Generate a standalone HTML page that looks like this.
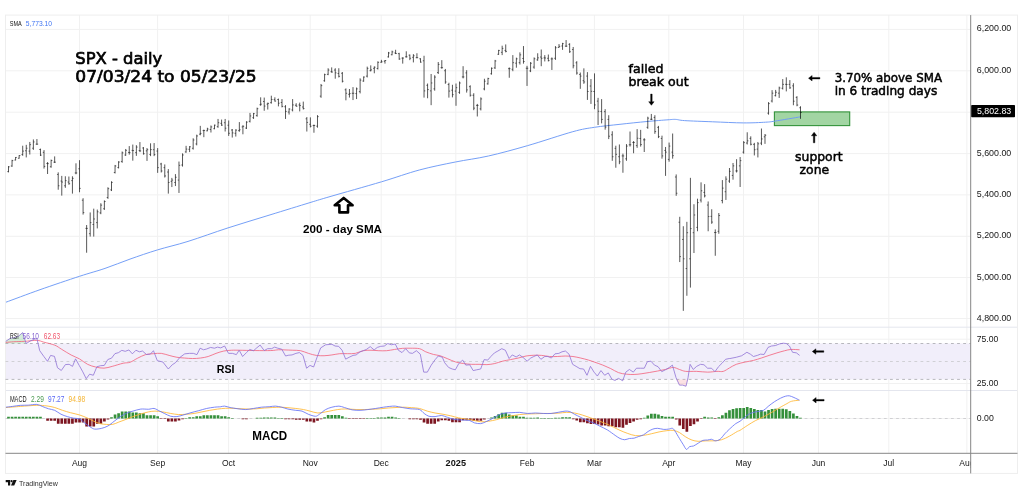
<!DOCTYPE html>
<html lang="en"><head><meta charset="utf-8"><title>SPX - daily</title>
<style>html,body{margin:0;padding:0;background:#fff}body{width:1023px;height:493px;overflow:hidden}svg{display:block}text{font-family:"Liberation Sans","DejaVu Sans",sans-serif}.ax{font-size:8.5px;fill:#161616}.tv{font-family:"DejaVu Sans","Liberation Sans",sans-serif;fill:#000;stroke:#000;stroke-width:.5px}.bd{font-weight:bold;fill:#000}.lg{font-size:8.5px}</style></head><body>
<svg width="1023" height="493" viewBox="0 0 1023 493">
<rect width="1023" height="493" fill="#fff"/>
<g stroke="#f1f1f1" stroke-width="1" fill="none">
<line x1="5.5" y1="29.4" x2="970.7" y2="29.4"/>
<line x1="5.5" y1="70.8" x2="970.7" y2="70.8"/>
<line x1="5.5" y1="112.2" x2="970.7" y2="112.2"/>
<line x1="5.5" y1="153.6" x2="970.7" y2="153.6"/>
<line x1="5.5" y1="194.9" x2="970.7" y2="194.9"/>
<line x1="5.5" y1="236.3" x2="970.7" y2="236.3"/>
<line x1="5.5" y1="277.5" x2="970.7" y2="277.5"/>
<line x1="5.5" y1="318.5" x2="970.7" y2="318.5"/>
<line x1="5.5" y1="339.2" x2="970.7" y2="339.2"/>
<line x1="5.5" y1="383.5" x2="970.7" y2="383.5"/>
<line x1="5.5" y1="418.5" x2="970.7" y2="418.5"/>
<line x1="79.5" y1="15.1" x2="79.5" y2="453.3"/>
<line x1="157.6" y1="15.1" x2="157.6" y2="453.3"/>
<line x1="228.6" y1="15.1" x2="228.6" y2="453.3"/>
<line x1="310.2" y1="15.1" x2="310.2" y2="453.3"/>
<line x1="381.2" y1="15.1" x2="381.2" y2="453.3"/>
<line x1="455.8" y1="15.1" x2="455.8" y2="453.3"/>
<line x1="527.2" y1="15.1" x2="527.2" y2="453.3"/>
<line x1="594.4" y1="15.1" x2="594.4" y2="453.3"/>
<line x1="668.8" y1="15.1" x2="668.8" y2="453.3"/>
<line x1="743.5" y1="15.1" x2="743.5" y2="453.3"/>
<line x1="818.5" y1="15.1" x2="818.5" y2="453.3"/>
<line x1="888.8" y1="15.1" x2="888.8" y2="453.3"/>
<line x1="966.9" y1="15.1" x2="966.9" y2="453.3"/>
</g>
<rect x="5.5" y="343.5" width="965.2" height="35.9" fill="#f1eefa"/>
<g stroke="#e4e6ee" stroke-width="1" fill="none">
<line x1="5.5" y1="327.2" x2="1017.5" y2="327.2"/>
<line x1="5.5" y1="390.5" x2="1017.5" y2="390.5"/>
</g>
<rect x="5.5" y="15.1" width="1012" height="458.3" fill="none" stroke="#eeeeee" stroke-width="1"/>
<g stroke="#a2a2a8" stroke-width="0.75" fill="none" stroke-dasharray="2.8 3.3">
<line x1="5.5" y1="343.5" x2="970.7" y2="343.5"/>
<line x1="5.5" y1="379.4" x2="970.7" y2="379.4"/>
</g>
<g stroke="#c8c8cc" stroke-width="0.8" fill="none" stroke-dasharray="2.8 3.3">
<line x1="5.5" y1="361.5" x2="970.7" y2="361.5"/>
<line x1="5.5" y1="418.5" x2="970.7" y2="418.5"/>
</g>
<rect x="774.4" y="111.9" width="75.3" height="13.7" fill="#a2d5a3" stroke="#33933a" stroke-width="1.1"/>
<path fill="none" stroke="#6e9af6" stroke-width="0.95" stroke-linejoin="round" d="M6 302.2C11.67 300.12 27.75 294.02 40 289.7C52.25 285.38 68.67 279.85 79.5 276.3C90.33 272.75 96.58 271.27 105 268.4C113.42 265.53 121.25 262.18 130 259.1C138.75 256.02 147.83 252.85 157.5 249.9C167.17 246.95 176.25 245.07 188 241.4C199.75 237.73 214.33 232.32 228 227.9C241.67 223.48 256.33 219.12 270 214.9C283.67 210.68 300 205.65 310 202.6C320 199.55 318.08 200.07 330 196.6C341.92 193.13 366.55 186.25 381.5 181.8C396.45 177.35 407.38 173.2 419.7 169.9C432.02 166.6 443.95 164.32 455.4 162C466.85 159.68 476.4 158.72 488.4 156C500.4 153.28 513.33 149.75 527.4 145.7C541.47 141.65 561.62 134.77 572.8 131.7C583.98 128.63 586.63 128.53 594.5 127.3C602.37 126.07 611.25 125.27 620 124.3C628.75 123.33 639 122.25 647 121.5C655 120.75 663.22 120.15 668 119.8C672.78 119.45 672.95 119.27 675.7 119.4C678.45 119.53 678.33 120.2 684.5 120.6C690.67 121 702.85 121.42 712.7 121.8C722.55 122.18 734.8 122.83 743.6 122.9C752.4 122.97 760.27 122.5 765.5 122.2C770.73 121.9 769.15 122 775 121.1C780.85 120.2 796.33 117.52 800.6 116.8"/>
<path fill="none" stroke="#000" stroke-width="0.72" stroke-opacity="0.92" d="M8.5 166.09V172.37M12.05 159.8V166.84M15.6 157.03V160.43M19.15 155.15V158.67M22.71 145.72V155.78M26.26 144.84V157.41M29.81 141.94V154.52M33.36 139.43V149.87M36.91 139.05V144.84M40.46 148.61V156.03M44.02 150.12V168.6M47.57 162.06V174.01M51.12 159.55V167.72M54.67 156.4V162.94M58.22 172.37V189.72M61.77 175.89V195.63M65.33 176.27V187.84M68.88 176.52V184.7M72.43 176.27V193.62M75.98 163.32V174.26M79.53 160.18V192.24M83.08 198.23V214.58M86.64 225.06V252.72M90.19 212.44V236.58M93.74 208.67V236.58M97.29 209.55V228.41M100.84 203.26V214.2M104.39 200.37V209.93M107.94 187.29V198.86M111.5 181.26V191.06M115.05 164.94V173.49M118.6 161.17V168.46M122.15 151.49V162.81M125.7 148.97V155.89M129.25 146.08V154.63M132.81 144.57V160.67M136.36 145.2V155.89M139.91 142.06V152.12M143.46 147.09V154.63M147.01 148.09V160.92M150.56 143.32V156.14M154.12 143.06V156.14M157.67 148.09V172.86M161.22 162.81V172.49M164.77 164.44V177.52M168.32 169.09V193.61M171.87 177.89V187.07M175.43 174.12V186.07M178.98 161.55V192.98M182.53 153.38V166.58M186.08 145.83V152.75M189.63 146.08V152.12M193.18 138.29V149.6M196.73 134.67V145.35M200.29 125.86V135.29M203.84 129.64V137.18M207.39 127.75V131.27M210.94 125.49V132.53M214.49 124.61V129.26M218.04 118.95V127.75M221.6 119.58V125.86M225.15 118.95V131.52M228.7 120.46V135.92M232.25 129.01V137.56M235.8 129.26V136.55M239.35 122.09V131.77M242.91 125.24V134.29M246.46 121.21V129.01M250.01 112.91V122.47M253.56 112.91V118.95M257.11 107.63V116.69M260.66 97.32V105.75M264.22 97.57V110.78M267.77 102.6V109.52M271.32 95.69V103.61M274.87 97.32V101.6M278.42 98.58V106.38M281.97 99.08V107.38M285.52 105.12V118.95M289.08 108.26V114.55M292.63 99.08V111.4M296.18 103.23V106.63M299.73 102.6V111.4M303.28 101.6V109.52M306.83 117.06V131.52M310.39 117.38V127.44M313.94 124.55V132.72M317.49 115.12V127.69M321.04 83.98V97.81M324.59 73.67V81.72M328.14 68.26V75.18M331.7 67.38V72.66M335.25 68.26V78.7M338.8 68.26V77.44M342.35 72.03V82.47M345.9 88.38V100.32M349.45 89.01V97.56M353.01 87.12V100.07M356.56 87.5V99.07M360.11 78.32V93.41M363.66 76.43V81.72M367.21 66.63V77.44M370.76 65.37V71.4M374.31 66.38V73.29M377.87 61.35V69.52M381.42 59.84V62.6M384.97 60.09V63.61M388.52 51.92V57.57M392.07 50.66V55.31M395.62 49.78V54.05M399.18 52.8V59.84M402.73 57.32V63.61M406.28 51.29V57.57M409.83 54.49V60.15M413.38 54.11V62.41M416.93 53.23V58.26M420.49 58.26V62.66M424.04 55.75V97.62M427.59 83.53V98.25M431.14 73.98V105.16M434.69 75.24V90.7M438.24 62.03V73.98M441.8 60.15V68.7M445.35 68.95V83.79M448.9 82.78V97.62M452.45 84.79V97.37M456 83.53V105.79M459.55 81.52V93.84M463.1 66.18V78.38M466.66 70.21V92.59M470.21 85.29V96.61M473.76 93.22V110.19M477.31 103.9V116.48M480.86 97.37V110.44M484.41 78.76V90.32M487.97 77.75V84.67M491.52 67.44V74.61M495.07 59.9V68.95M498.62 49.84V54.87M502.17 45.69V55.12M505.72 44.43V52.35M509.28 67.44V77.75M512.83 55.12V71.21M516.38 57.63V67.69M519.93 52.35V64.55M523.48 46.06V63.67M527.03 65.83V85.95M530.59 62.06V72.12M534.14 57.41V68.73M537.69 53.26V60.81M541.24 49.49V66.21M544.79 55.15V61.43M548.34 54.52V61.43M551.89 57.41V69.98M555.45 46.09V59.93M559 44.08V47.85M562.55 42.83V49.87M566.1 40.06V46.97M569.65 43.2V52.88M573.2 46.97V68.35M576.76 61.18V74.64M580.31 72.5V88.84M583.86 68.35V83.82M587.41 72.12V99.91M590.96 79.04V103.93M594.51 73.38V109.21M598.07 97.85V125.01M601.62 99.11V123.38M605.17 109.17V129.67M608.72 115.21V139.1M612.27 131.26V160.81M615.82 145.72V167.72M619.38 144.46V164.2M622.93 153.64V172.75M626.48 144.08V160.81M630.03 131.51V146.6M633.58 141.06V153.26M637.13 129.12V147.85M640.68 129.87V146.6M644.24 138.17V152M647.79 116.72V128.79M651.34 113.95V119.98M654.89 115.21V133.82M658.44 125.89V138.09M661.99 135.66V158.67M665.55 146.97V175.89M669.1 142.57V161.69M672.65 133.52V158.67M676.2 174.43V195.81M679.75 216.8V262.07M683.3 226.23V310.85M686.86 221.83V295.77M690.41 177.83V287.59M693.96 204.23V253.02M697.51 198.7V231.26M701.06 182.35V202.47M704.61 184.11V197.44M708.17 201.46V231.26M711.72 209.26V223.84M715.27 229.38V255.78M718.82 213.03V233.78M722.37 180.09V203.35M725.92 176.32V199.95M729.47 168V182.84M733.03 162.97V179.7M736.58 159.2V172.53M740.13 157.06V186.99M743.68 141.09V153.67M747.23 132.29V144.49M750.78 136.32V145.37M754.34 142.85V155.43M757.89 141.97V157.44M761.44 128.52V145.12M764.99 134.05V143.86M768.54 102.09V114.67M772.09 90.15V102.47M775.65 89.9V96.43M779.2 86.63V97.94M782.75 79.08V89.52M786.3 77.32V91.4M789.85 80.09V88.89M793.4 83.23V105.24M796.96 96.18V106.24M800.51 106.24V118.82"/>
<path fill="none" stroke="#000" stroke-width="0.7" stroke-opacity="0.8" d="M7.25 171.62H8.5M8.5 166.84H9.75M10.8 166H12.05M12.05 160.64H13.3M14.35 160.02H15.6M15.6 157.44H16.85M17.9 158.25H19.15M19.15 155.57H20.4M21.46 154.57H22.71M22.71 151.12H23.96M25.01 150.75H26.26M26.26 148.23H27.51M28.56 151.12H29.81M29.81 144.65H31.06M32.11 148.23H33.36M33.36 141.94H34.61M35.66 144.14H36.91M36.91 144.14H38.16M39.21 149.5H40.46M40.46 155.14H41.71M42.77 152.34H44.02M44.02 166.38H45.27M46.32 163.5H47.57M47.57 163.63H48.82M49.87 166.74H51.12M51.12 160.53H52.37M53.42 162.16H54.67M54.67 162.16H55.92M56.97 174.46H58.22M58.22 185.76H59.47M60.52 181.05H61.77M61.77 182.06H63.02M64.08 185.76H65.33M65.33 180.61H66.58M67.63 182.06H68.88M68.88 183.71H70.13M71.18 180.61H72.43M72.43 178.35H73.68M74.73 172.95H75.98M75.98 172.95H77.23M78.28 168.79H79.53M79.53 188.39H80.78M81.83 200.19H83.08M83.08 212.62H84.33M85.39 228.38H86.64M86.64 228.38H87.89M88.94 233.68H90.19M90.19 222.62H91.44M92.49 224.51H93.74M93.74 218.98H94.99M96.04 222.62H97.29M97.29 211.81H98.54M99.59 212.89H100.84M100.84 205.15H102.09M103.14 208.73H104.39M104.39 201.52H105.64M106.69 197.47H107.94M107.94 188.68H109.19M110.25 189.89H111.5M111.5 182.43H112.75M113.8 172.47H115.05M115.05 165.97H116.3M117.35 167.59H118.6M118.6 162.05H119.85M120.9 161.45H122.15M122.15 152.85H123.4M124.45 155.06H125.7M125.7 150.36H126.95M128 152.43H129.25M129.25 152.62H130.5M131.56 150.36H132.81M132.81 150.55H134.06M135.11 152.62H136.36M136.36 147.09H137.61M138.66 150.55H139.91M139.91 150.86H141.16M142.21 147.99H143.46M143.46 153.73H144.71M145.76 150.86H147.01M147.01 149.73H148.26M149.31 154.51H150.56M150.56 149.6H151.81M152.87 149.73H154.12M154.12 154.57H155.37M156.42 151.07H157.67M157.67 167.65H158.92M159.97 163.97H161.22M161.22 170.98H162.47M163.52 167.65H164.77M164.77 175.95H166.02M167.07 172.03H168.32M168.32 182.48H169.57M170.62 181.35H171.87M171.87 180.09H173.12M174.18 182.48H175.43M175.43 177.27H176.68M177.73 180.09H178.98M178.98 165.32H180.23M181.28 164.99H182.53M182.53 154.96H183.78M184.83 151.92H186.08M186.08 149.1H187.33M188.38 149.29H189.63M189.63 146.81H190.88M191.93 148.25H193.18M193.18 140.01H194.43M195.48 143.94H196.73M196.73 135.95H197.98M199.04 134.16H200.29M200.29 133.41H201.54M202.59 130.58H203.84M203.84 130.54H205.09M206.14 130.85H207.39M207.39 129.01H208.64M209.69 129.51H210.94M210.94 126.93H212.19M213.24 128.7H214.49M214.49 125.17H215.74M216.79 126.69H218.04M218.04 122.72H219.29M220.35 123.35H221.6M221.6 125.11H222.85M223.9 122.72H225.15M225.15 128.19H226.4M227.45 125.24H228.7M228.7 133.28H229.95M231 130.03H232.25M232.25 132.91H233.5M234.55 133.28H235.8M235.8 130.13H237.05M238.1 130.61H239.35M239.35 129.76H240.6M241.66 126.93H242.91M242.91 126.32H244.16M245.21 128.07H246.46M246.46 122.15H247.71M248.76 121.32H250.01M250.01 115.93H251.26M252.31 117.69H253.56M253.56 113.64H254.81M255.86 115.6H257.11M257.11 108.72H258.36M259.41 104.74H260.66M260.66 104.17H261.91M262.97 101.53H264.22M264.22 106.06H265.47M266.52 104.17H267.77M267.77 103.43H269.02M270.07 102.66H271.32M271.32 99.46H272.57M273.62 99.65H274.87M274.87 101.08H276.12M277.17 99.52H278.42M278.42 103.23H279.67M280.72 102.48H281.97M281.97 106.39H283.22M284.27 106.78H285.52M285.52 111.4H286.77M287.83 112.03H289.08M289.08 109.02H290.33M291.38 109.93H292.63M292.63 104.93H293.88M294.93 105.24H296.18M296.18 106.22H297.43M298.48 104.93H299.73M299.73 105.56H300.98M302.03 107H303.28M303.28 108.57H304.53M305.58 118.8H306.83M306.83 122.41H308.08M309.14 124.29H310.39M310.39 126.23H311.64M312.69 125.53H313.94M313.94 125.53H315.19M316.24 126.18H317.49M317.49 116.63H318.74M319.79 96.15H321.04M321.04 85.64H322.29M323.34 80.75H324.59M324.59 74.63H325.84M326.89 74.35H328.14M328.14 70.02H329.39M330.45 71.72H331.7M331.7 72.03H332.95M334 70.02H335.25M335.25 72.85H336.5M337.55 73.48H338.8M338.8 76.34H340.05M341.1 73.29H342.35M342.35 81.22H343.6M344.65 89.81H345.9M345.9 93.28H347.15M348.2 94.35H349.45M349.45 93.6H350.7M351.76 93.28H353.01M353.01 93.28H354.26M355.31 93.6H356.56M356.56 88.89H357.81M358.86 91.6H360.11M360.11 80.13H361.36M362.41 81.08H363.66M363.66 77.07H364.91M365.96 76.14H367.21M367.21 68.39H368.46M369.51 70.68H370.76M370.76 69.83H372.01M373.06 68.39H374.31M374.31 67.21H375.56M376.62 68.54H377.87M377.87 62.33H379.12M380.17 62.27H381.42M381.42 61.85H382.67M383.72 61.22H384.97M384.97 60.51H386.22M387.27 56.89H388.52M388.52 52.98H389.77M390.82 54.74H392.07M392.07 51.92H393.32M394.37 52.98H395.62M395.62 53.54H396.87M397.93 53.64H399.18M399.18 58.99H400.43M401.48 58.08H402.73M402.73 58.08H403.98M405.03 56.82H406.28M406.28 56.82H407.53M408.58 55.17H409.83M409.83 58.26H411.08M412.13 57.32H413.38M413.38 55.75H414.63M415.68 57.66H416.93M416.93 57.66H418.18M419.24 58.79H420.49M420.49 62.13H421.74M422.79 60.77H424.04M424.04 90.89H425.29M426.34 85.3H427.59M427.59 89.57H428.84M429.89 90.89H431.14M431.14 82.97H432.39M433.44 88.85H434.69M434.69 77.09H435.94M436.99 72.54H438.24M438.24 64.42H439.49M440.55 67.67H441.8M441.8 67.67H443.05M444.1 70.73H445.35M445.35 82.01H446.6M447.65 84.56H448.9M448.9 91.08H450.15M451.2 90.2H452.45M452.45 94.66H453.7M454.75 91.08H456M456 87.68H457.25M458.3 92.37H459.55M459.55 83H460.8M461.85 76.92H463.1M463.1 76.92H464.35M465.41 72.89H466.66M466.66 89.9H467.91M468.96 86.65H470.21M470.21 95.25H471.46M472.51 95.25H473.76M473.76 108.15H475.01M476.06 105.41H477.31M477.31 105.41H478.56M479.61 108.87H480.86M480.86 98.93H482.11M483.16 88.94H484.41M484.41 81.21H485.66M486.72 83.84H487.97M487.97 78.58H489.22M490.27 73.75H491.52M491.52 68.3H492.77M493.82 67.86H495.07M495.07 60.98H496.32M497.37 54.26H498.62M498.62 50.44H499.87M500.92 52.35H502.17M502.17 48.39H503.42M504.47 50.4H505.72M505.72 51.4H506.97M508.03 68.68H509.28M509.28 68.68H510.53M511.58 69.28H512.83M512.83 62.66H514.08M515.13 63.17H516.38M516.38 58.84H517.63M518.68 62.66H519.93M519.93 54.87H521.18M522.23 58.45H523.48M523.48 61.56H524.73M525.78 68.25H527.03M527.03 68.25H528.28M529.34 70.91H530.59M530.59 63.27H531.84M532.89 67.09H534.14M534.14 58.77H535.39M536.44 59.9H537.69M537.69 57.85H538.94M539.99 57.03H541.24M541.24 58.29H542.49M543.54 57.85H544.79M544.79 57.98H546.04M547.09 58.29H548.34M548.34 60.6H549.59M550.64 58.92H551.89M551.89 58.92H553.14M554.2 58.27H555.45M555.45 47.75H556.7M557.75 47.4H559M559 46.35H560.25M561.3 45.97H562.55M562.55 43.67H563.8M564.85 46.14H566.1M566.1 46.14H567.35M568.4 44.36H569.65M569.65 51.72H570.9M571.95 49.54H573.2M573.2 65.78H574.45M575.51 62.8H576.76M576.76 73.02H578.01M579.06 74.46H580.31M580.31 76.08H581.56M582.61 80.67H583.86M583.86 81.96H585.11M586.16 76.08H587.41M587.41 91.49H588.66M589.71 86.02H590.96M590.96 91.3H592.21M593.26 91.49H594.51M594.51 104.91H595.76M596.82 101.11H598.07M598.07 111.25H599.32M600.37 111.43H601.62M601.62 119.42H602.87M603.92 111.63H605.17M605.17 127.15H606.42M607.47 119.42H608.72M608.72 136.23H609.97M611.02 134.8H612.27M612.27 156.72H613.52M614.57 148.36H615.82M615.82 154.33H617.07M618.13 156.72H619.38M619.38 161.83H620.63M621.68 155.93H622.93M622.93 155.93H624.18M625.23 158.8H626.48M626.48 146.09H627.73M628.78 144.79H630.03M630.03 144.79H631.28M632.33 142.53H633.58M633.58 142.53H634.83M635.88 145.61H637.13M637.13 138.24H638.38M639.43 138.49H640.68M640.68 144.59H641.93M642.99 139.83H644.24M644.24 139.83H645.49M646.54 127.34H647.79M647.79 118.16H649.04M650.09 119.26H651.34M651.34 119.26H652.59M653.64 117.44H654.89M654.89 131.58H656.14M657.19 127.36H658.44M658.44 136.63H659.69M660.74 138.42H661.99M661.99 155.91H663.24M664.3 150.44H665.55M665.55 152.13H666.8M667.85 159.39H669.1M669.1 146.09H670.35M671.4 152.13H672.65M672.65 155.65H673.9M674.95 177H676.2M676.2 193.24H677.45M678.5 222.24H679.75M679.75 256.64H681M682.05 239.44H683.3M683.3 258.8H684.55M685.61 268.54H686.86M686.86 232.71H688.11M689.16 258.8H690.41M690.41 228.62H691.66M692.71 232.71H693.96M693.96 214.98H695.21M696.26 227.36H697.51M697.51 202.61H698.76M699.81 200.06H701.06M701.06 190.78H702.31M703.36 192.41H704.61M704.61 195.84H705.86M706.92 205.04H708.17M708.17 216.55H709.42M710.47 216.36H711.72M711.72 222.09H712.97M714.02 232.55H715.27M715.27 232.55H716.52M717.57 231.29H718.82M718.82 215.52H720.07M721.12 200.56H722.37M722.37 188.14H723.62M724.67 191.72H725.92M725.92 179.15H727.17M728.22 181.06H729.47M729.47 171.33H730.72M731.78 175.42H733.03M733.03 165.86H734.28M735.33 170.93H736.58M736.58 170.93H737.83M738.88 165.86H740.13M740.13 160.65H741.38M742.43 152.16H743.68M743.68 142.6H744.93M745.98 143.03H747.23M747.23 140.84H748.48M749.53 138.39H750.78M750.78 144.28H752.03M753.09 144.36H754.34M754.34 149.71H755.59M756.64 149.14H757.89M757.89 143.83H759.14M760.19 143.13H761.44M761.44 138.96H762.69M763.74 136.82H764.99M764.99 135.23H766.24M767.29 113.16H768.54M768.54 103.6H769.79M770.84 100.99H772.09M772.09 93.17H773.34M774.4 95.65H775.65M775.65 92.28H776.9M777.95 93.17H779.2M779.2 87.98H780.45M781.5 88.27H782.75M782.75 84.36H784M785.05 84.3H786.3M786.3 84.49H787.55M788.6 84.36H789.85M789.85 87.83H791.1M792.15 85.87H793.4M793.4 101.21H794.65M795.71 97.39H796.96M796.96 105.03H798.21M799.26 107.75H800.51M800.51 112.53H801.76"/>
<polygon fill="#8fd19a" fill-opacity="0.38" points="5.7,343.5 5.75,341.33 10.26,338.32 14.37,337.63 18.48,336.26 22.58,332.57 24.63,339 26.28,343.5 26.3,343.5"/>
<polygon fill="#f7a6ab" fill-opacity="0.32" points="676.8,379.4 676.02,379.4 679.46,385.12 682.59,385.12 686.03,386.22 688.06,379.4 687.6,379.4"/>
<path fill="none" stroke="#f2607a" stroke-width="0.8" stroke-linejoin="round" d="M5.75 342.42C7.07 342.31 10.54 341.92 13.69 341.74C16.83 341.56 20.76 341.56 24.63 341.33C28.51 341.1 33.76 340.23 36.95 340.37C40.14 340.51 40.83 341.35 43.79 342.15C46.76 342.95 51.78 343.97 54.74 345.16C57.71 346.35 58.85 347.62 61.58 349.26C64.32 350.91 68.2 353.42 71.16 355.01C74.13 356.61 76.64 357.29 79.37 358.84C82.11 360.4 84.85 362.95 87.59 364.32C90.32 365.69 93.06 366.42 95.8 367.06C98.53 367.69 101.27 368.26 104.01 368.15C106.74 368.04 109.03 367.19 112.22 366.37C115.41 365.55 120.2 363.9 123.17 363.22C126.13 362.54 127.56 363.15 130 362.29C132.44 361.43 135.21 359.34 137.82 358.06C140.43 356.79 143.03 355.35 145.64 354.62C148.25 353.89 150.85 353.89 153.46 353.68C156.07 353.47 158.67 353.08 161.28 353.37C163.89 353.66 166.49 354.75 169.1 355.4C171.71 356.06 174.31 356.84 176.92 357.28C179.53 357.72 182.13 357.85 184.74 358.06C187.35 358.27 189.95 358.53 192.56 358.53C195.17 358.53 197.77 358.4 200.38 358.06C202.99 357.72 205.59 357.28 208.2 356.5C210.81 355.72 213.41 354.28 216.02 353.37C218.63 352.46 221.23 351.55 223.84 351.02C226.45 350.5 229.06 350.37 231.66 350.24C234.27 350.11 235.57 350.19 239.48 350.24C243.39 350.29 249.91 350.5 255.12 350.56C260.34 350.61 266.85 350.69 270.76 350.56C274.67 350.42 276.21 349.88 278.58 349.77C280.96 349.67 282.63 349.85 285 349.93C287.37 350.01 290.21 350.11 292.82 350.24C295.43 350.37 298.03 350.19 300.64 350.71C303.25 351.23 305.85 352.59 308.46 353.37C311.07 354.15 313.67 355.01 316.28 355.4C318.89 355.79 321.49 355.79 324.1 355.72C326.71 355.64 329.31 355.27 331.92 354.93C334.53 354.6 337.13 353.89 339.74 353.68C342.35 353.47 344.95 353.74 347.56 353.68C350.17 353.63 352.77 353.87 355.38 353.37C357.99 352.88 360.59 351.23 363.2 350.71C365.81 350.19 368.41 350.24 371.02 350.24C373.63 350.24 376.23 350.63 378.84 350.71C381.45 350.79 384.06 350.92 386.66 350.71C389.27 350.5 391.88 349.85 394.48 349.46C397.09 349.07 399.7 348.57 402.3 348.37C404.91 348.16 407.25 348.16 410.12 348.21C412.99 348.26 416.9 348.08 419.51 348.68C422.11 349.28 423.42 350.84 425.76 351.81C428.11 352.77 431.21 353.81 433.58 354.47C435.96 355.12 437.63 354.99 440 355.72C442.37 356.45 445.21 357.8 447.82 358.84C450.43 359.89 453.03 361.19 455.64 361.97C458.25 362.75 460.85 363.15 463.46 363.54C466.07 363.93 468.67 364.19 471.28 364.32C473.89 364.45 476.49 364.27 479.1 364.32C481.71 364.37 484.31 364.76 486.92 364.63C489.53 364.5 492.13 364.11 494.74 363.54C497.35 362.96 499.95 361.84 502.56 361.19C505.17 360.54 507.77 360.15 510.38 359.63C512.99 359.11 515.59 358.66 518.2 358.06C520.81 357.46 523.41 356.5 526.02 356.03C528.63 355.56 531.23 355.35 533.84 355.25C536.45 355.14 539.06 355.2 541.66 355.4C544.27 355.61 546.88 356.32 549.48 356.5C552.09 356.68 554.7 356.58 557.3 356.5C559.91 356.42 562.52 356.03 565.12 356.03C567.73 356.03 570.34 356.16 572.94 356.5C575.55 356.84 578.16 357.46 580.76 358.06C583.37 358.66 586.21 359.39 588.58 360.1C590.96 360.8 592.63 361.45 595 362.29C597.37 363.12 600.21 364.06 602.82 365.1C605.43 366.14 608.03 367.29 610.64 368.54C613.25 369.79 615.85 371.67 618.46 372.61C621.07 373.55 623.67 373.86 626.28 374.17C628.89 374.48 631.49 374.56 634.1 374.48C636.71 374.41 639.31 374.04 641.92 373.7C644.53 373.36 647.13 372.89 649.74 372.45C652.35 372.01 654.95 371.54 657.56 371.04C660.17 370.55 662.77 370.08 665.38 369.48C667.99 368.88 670.86 367.45 673.2 367.45C675.55 367.45 677.37 368.83 679.46 369.48C681.54 370.13 682.85 371.04 685.71 371.36C688.58 371.67 693.01 371.23 696.66 371.36C700.31 371.49 704.22 372.14 707.61 372.14C711 372.14 714.39 371.49 716.99 371.36C719.6 371.23 721.16 371.93 723.25 371.36C725.34 370.78 727.34 369.09 729.51 367.92C731.67 366.74 733.57 365.31 736.26 364.32C738.95 363.33 742.77 362.62 745.64 361.97C748.51 361.32 750.85 361.06 753.46 360.41C756.07 359.76 758.67 358.9 761.28 358.06C763.89 357.23 766.49 356.26 769.1 355.4C771.71 354.54 774.31 353.68 776.92 352.9C779.53 352.12 782.39 351.29 784.74 350.71C787.09 350.14 788.52 349.62 791 349.46C793.47 349.3 798.17 349.72 799.6 349.77"/>
<polyline fill="none" stroke="#8f72d6" stroke-width="0.8" stroke-linejoin="round" points="5.75,341.33 10.26,338.32 14.37,337.63 18.48,336.26 22.58,332.57 24.63,339 26.28,343.52 30.11,341.05 34.9,339 36.95,338.59 39.69,350.63 43.79,356.38 47.49,361.31 50.64,355.42 54.47,356.38 57.48,367.74 61.31,370.48 65.42,364.59 69.11,364.32 72.53,366.37 75.54,358.84 79.37,365.69 82.8,371.85 86.22,378.69 89.64,374.17 93.33,375.27 96.89,366.78 100.59,365.69 104.28,365.41 107.84,359.53 111.53,358.16 114.96,353.64 118.38,352.69 121.8,350.36 125.22,351.32 128.91,349.95 132.35,353.84 135.94,350.24 139.38,351.81 142.51,351.02 146.42,354.47 150.33,354.15 153.46,350.71 157.37,360.72 162.84,361.97 168.32,369.01 172.23,364.79 175.36,362.75 180.05,357.28 184.74,353.84 189.43,353.37 193.34,353.37 196.94,354.62 200.07,348.21 203.51,349.77 206.64,348.99 210.55,347.43 214.46,348.21 217.59,347.11 220.71,347.9 224.62,346.02 228.53,353.37 232.44,353.37 236.35,354.62 239.17,350.24 242.61,356.5 246.52,352.59 249.65,349.46 253.56,350.71 256.69,347.9 260.13,345.08 264.19,350.56 267.63,348.68 271.54,348.68 274.67,347.11 277.8,348.21 281.71,349.15 285.62,356.03 288.13,355.25 292.04,354.93 295.95,353.37 299.39,352.59 302.99,355.4 306.58,368.23 310.02,365.41 313.62,366.98 317.06,357.28 320.66,347.9 325.66,344.77 331.92,344.3 335.05,346.02 338.65,346.33 342.09,350.24 345.68,359.16 349.13,357.28 353.04,355.4 356.16,354.93 360.07,351.81 363.2,350.71 366.33,349.46 370.24,346.65 374.15,349.93 377.28,347.43 380.72,346.33 384.32,346.02 387.76,343.52 391.35,344.77 395.26,343.99 398.39,350.24 401.99,352.59 405.74,348.68 409.34,352.9 412.47,353.37 416.38,350.71 420.29,354.15 423.73,372.14 427.33,372.14 431.24,365.1 435.15,359.63 438.27,356.03 440,356.5 442.35,357.28 444.69,362.75 448.6,367.45 452.2,369.01 455.33,369.79 458.77,363.54 462.68,360.1 465.81,365.1 469.72,364.79 473.16,370.57 476.75,369.79 480.66,369.01 484.11,359.63 487.7,360.1 490.83,356.5 494.43,352.9 497.87,351.02 501.78,348.68 505.38,350.24 509.13,358.53 512.26,354.93 516.17,356.97 519.45,354.93 522.89,357.28 527.12,361.19 530.71,358.06 533.84,356.5 537.28,354.93 540.88,359.31 544.79,356.5 547.92,356.5 551.36,358.06 554.96,353.84 558.87,353.37 561.99,351.81 565.43,351.02 569.03,354.15 572.63,364.32 576.07,366.35 579.98,368.7 583.58,369.01 587.02,375.27 590.46,366.35 594.06,372.14 597.35,376.05 600.94,370.57 604.7,375.27 608.29,372.92 611.89,379.18 615.02,380.43 618.46,378.39 622.68,380.74 625.81,372.14 629.41,369.48 633.32,372.14 636.45,368.23 640.36,368.23 644.27,368.23 647.39,361.66 650.99,361.19 654.43,365.1 658.03,366.66 661.78,371.67 665.38,369.79 669.29,367.45 672.42,365.1 676.02,377.61 679.46,385.12 682.59,385.12 686.03,386.22 688.06,377.61 690.09,364.32 693.22,369.48 696.66,366.35 700.57,364.32 704.01,364.79 707.61,368.23 711.52,368.23 714.96,371.67 718.56,366.66 722,363.22 725.6,359.31 729.19,358.53 730,358.53 736.26,357.28 741.73,355.72 746.89,352.28 750.33,354.15 753.46,356.5 757.37,355.4 760.5,354.15 764.1,354.47 768.01,347.43 771.45,346.02 775.36,345.55 779.27,343.99 783.18,343.2 786.3,343.52 789.43,346.02 792.56,352.28 796.47,352.9 799.6,355.4"/>
<path fill="#35903b" d="M7.15 418.5H9.85V416.71H7.15ZM10.7 418.5H13.4V416.71H10.7ZM14.25 418.5H16.95V416.71H14.25ZM17.8 418.5H20.5V416.71H17.8ZM21.36 418.5H24.06V416.71H21.36ZM24.91 418.5H27.61V416.71H24.91ZM28.46 418.5H31.16V416.71H28.46ZM32.01 418.5H34.71V416.71H32.01ZM35.56 418.5H38.26V416.71H35.56ZM39.11 418.5H41.81V416.71H39.11ZM110.15 418.5H112.85V417.23H110.15ZM113.7 418.5H116.4V414.61H113.7ZM117.25 418.5H119.95V413.21H117.25ZM120.8 418.5H123.5V411.45H120.8ZM124.35 418.5H127.05V411.45H124.35ZM127.9 418.5H130.6V411.45H127.9ZM131.46 418.5H134.16V412.51H131.46ZM135.01 418.5H137.71V412.51H135.01ZM138.56 418.5H141.26V413.21H138.56ZM142.11 418.5H144.81V413.21H142.11ZM145.66 418.5H148.36V415.13H145.66ZM149.21 418.5H151.91V415.13H149.21ZM152.77 418.5H155.47V415.13H152.77ZM156.32 418.5H159.02V416.36H156.32ZM184.73 418.5H187.43V417.94H184.73ZM188.28 418.5H190.98V417.23H188.28ZM191.83 418.5H194.53V417.23H191.83ZM195.38 418.5H198.08V416.36H195.38ZM198.94 418.5H201.64V416.36H198.94ZM202.49 418.5H205.19V415.13H202.49ZM206.04 418.5H208.74V415.13H206.04ZM209.59 418.5H212.29V415.13H209.59ZM213.14 418.5H215.84V415.13H213.14ZM216.69 418.5H219.39V415.13H216.69ZM220.25 418.5H222.95V416.36H220.25ZM223.8 418.5H226.5V416.36H223.8ZM227.35 418.5H230.05V417.23H227.35ZM230.9 418.5H233.6V417.94H230.9ZM255.76 418.5H258.46V417.76H255.76ZM259.31 418.5H262.01V417.76H259.31ZM262.87 418.5H265.57V417.41H262.87ZM266.42 418.5H269.12V417.41H266.42ZM269.97 418.5H272.67V417.41H269.97ZM273.52 418.5H276.22V417.41H273.52ZM277.07 418.5H279.77V418.11H277.07ZM280.62 418.5H283.32V418.11H280.62ZM323.24 418.5H325.94V417.23H323.24ZM326.79 418.5H329.49V414.96H326.79ZM330.35 418.5H333.05V414.96H330.35ZM333.9 418.5H336.6V414.96H333.9ZM337.45 418.5H340.15V414.96H337.45ZM341 418.5H343.7V416.36H341ZM344.55 418.5H347.25V417.76H344.55ZM365.86 418.5H368.56V417.94H365.86ZM369.41 418.5H372.11V417.94H369.41ZM372.96 418.5H375.66V417.94H372.96ZM376.52 418.5H379.22V417.41H376.52ZM380.07 418.5H382.77V417.41H380.07ZM383.62 418.5H386.32V417.41H383.62ZM387.17 418.5H389.87V416.71H387.17ZM390.72 418.5H393.42V416.71H390.72ZM394.27 418.5H396.97V417.41H394.27ZM397.83 418.5H400.53V418.11H397.83ZM490.17 418.5H492.87V417.59H490.17ZM493.72 418.5H496.42V416.01H493.72ZM497.27 418.5H499.97V414.26H497.27ZM500.82 418.5H503.52V412.86H500.82ZM504.37 418.5H507.07V412.86H504.37ZM507.93 418.5H510.63V414.61H507.93ZM511.48 418.5H514.18V415.48H511.48ZM515.03 418.5H517.73V415.48H515.03ZM518.58 418.5H521.28V416.71H518.58ZM522.13 418.5H524.83V416.71H522.13ZM525.68 418.5H528.38V417.76H525.68ZM529.24 418.5H531.94V417.76H529.24ZM532.79 418.5H535.49V417.76H532.79ZM536.34 418.5H539.04V417.41H536.34ZM539.89 418.5H542.59V418.11H539.89ZM543.44 418.5H546.14V418.11H543.44ZM546.99 418.5H549.69V418.11H546.99ZM550.54 418.5H553.24V418.11H550.54ZM554.1 418.5H556.8V417.76H554.1ZM557.65 418.5H560.35V417.76H557.65ZM561.2 418.5H563.9V417.23H561.2ZM564.75 418.5H567.45V417.23H564.75ZM568.3 418.5H571V417.23H568.3ZM642.89 418.5H645.59V417.76H642.89ZM646.44 418.5H649.14V415.48H646.44ZM649.99 418.5H652.69V413.73H649.99ZM653.54 418.5H656.24V413.73H653.54ZM657.09 418.5H659.79V414.61H657.09ZM660.64 418.5H663.34V416.01H660.64ZM664.2 418.5H666.9V416.71H664.2ZM667.75 418.5H670.45V416.71H667.75ZM671.3 418.5H674V416.71H671.3ZM703.26 418.5H705.96V416.71H703.26ZM706.82 418.5H709.52V417.41H706.82ZM710.37 418.5H713.07V417.41H710.37ZM717.47 418.5H720.17V417.23H717.47ZM721.02 418.5H723.72V415.13H721.02ZM724.57 418.5H727.27V412.86H724.57ZM728.12 418.5H730.82V410.23H728.12ZM731.68 418.5H734.38V409H731.68ZM735.23 418.5H737.93V408.13H735.23ZM738.78 418.5H741.48V407.95H738.78ZM742.33 418.5H745.03V407.95H742.33ZM745.88 418.5H748.58V407.08H745.88ZM749.43 418.5H752.13V407.95H749.43ZM752.99 418.5H755.69V409H752.99ZM756.54 418.5H759.24V409.88H756.54ZM760.09 418.5H762.79V409.88H760.09ZM763.64 418.5H766.34V411.45H763.64ZM767.19 418.5H769.89V409.88H767.19ZM770.74 418.5H773.44V409H770.74ZM774.3 418.5H777V408.83H774.3ZM777.85 418.5H780.55V408.83H777.85ZM781.4 418.5H784.1V408.83H781.4ZM784.95 418.5H787.65V409.35H784.95ZM788.5 418.5H791.2V411.1H788.5ZM792.05 418.5H794.75V413.38H792.05ZM795.61 418.5H798.31V416.01H795.61ZM799.16 418.5H801.86V417.76H799.16Z"/>
<path fill="#7d1621" d="M46.22 418.5H48.92V420.74H46.22ZM49.77 418.5H52.47V420.74H49.77ZM53.32 418.5H56.02V420.74H53.32ZM56.87 418.5H59.57V423.72H56.87ZM60.42 418.5H63.12V423.72H60.42ZM63.98 418.5H66.68V423.72H63.98ZM67.53 418.5H70.23V423.72H67.53ZM71.08 418.5H73.78V423.72H71.08ZM74.63 418.5H77.33V422.49H74.63ZM78.18 418.5H80.88V422.49H78.18ZM81.73 418.5H84.43V422.49H81.73ZM85.29 418.5H87.99V426.52H85.29ZM88.84 418.5H91.54V426.52H88.84ZM92.39 418.5H95.09V426.52H92.39ZM95.94 418.5H98.64V423.72H95.94ZM99.49 418.5H102.19V423.72H99.49ZM103.04 418.5H105.74V421.61H103.04ZM106.59 418.5H109.29V419.51H106.59ZM159.87 418.5H162.57V418.99H159.87ZM163.42 418.5H166.12V418.99H163.42ZM166.97 418.5H169.67V421.61H166.97ZM170.52 418.5H173.22V421.61H170.52ZM174.08 418.5H176.78V421.61H174.08ZM177.63 418.5H180.33V420.39H177.63ZM181.18 418.5H183.88V419.34H181.18ZM241.56 418.5H244.26V419.16H241.56ZM245.11 418.5H247.81V419.16H245.11ZM284.17 418.5H286.87V419.34H284.17ZM287.73 418.5H290.43V419.34H287.73ZM291.28 418.5H293.98V419.34H291.28ZM294.83 418.5H297.53V419.86H294.83ZM298.38 418.5H301.08V419.86H298.38ZM301.93 418.5H304.63V419.86H301.93ZM305.48 418.5H308.18V421.61H305.48ZM309.04 418.5H311.74V421.61H309.04ZM312.59 418.5H315.29V422.49H312.59ZM316.14 418.5H318.84V420.74H316.14ZM319.69 418.5H322.39V419.16H319.69ZM348.1 418.5H350.8V418.99H348.1ZM351.66 418.5H354.36V418.99H351.66ZM355.21 418.5H357.91V418.99H355.21ZM358.76 418.5H361.46V418.99H358.76ZM362.31 418.5H365.01V418.99H362.31ZM408.48 418.5H411.18V419.34H408.48ZM412.03 418.5H414.73V419.34H412.03ZM415.58 418.5H418.28V419.34H415.58ZM419.14 418.5H421.84V419.86H419.14ZM422.69 418.5H425.39V422.49H422.69ZM426.24 418.5H428.94V423.72H426.24ZM429.79 418.5H432.49V423.72H429.79ZM433.34 418.5H436.04V423.72H433.34ZM436.89 418.5H439.59V421.61H436.89ZM440.45 418.5H443.15V420.21H440.45ZM444 418.5H446.7V420.21H444ZM447.55 418.5H450.25V420.74H447.55ZM451.1 418.5H453.8V422.14H451.1ZM454.65 418.5H457.35V422.14H454.65ZM458.2 418.5H460.9V422.14H458.2ZM461.75 418.5H464.45V420.21H461.75ZM465.31 418.5H468.01V420.21H465.31ZM468.86 418.5H471.56V420.21H468.86ZM472.41 418.5H475.11V420.74H472.41ZM475.96 418.5H478.66V420.74H475.96ZM479.51 418.5H482.21V420.74H479.51ZM483.06 418.5H485.76V419.51H483.06ZM571.85 418.5H574.55V419.34H571.85ZM575.41 418.5H578.11V420.39H575.41ZM578.96 418.5H581.66V422.14H578.96ZM582.51 418.5H585.21V422.14H582.51ZM586.06 418.5H588.76V423.37H586.06ZM589.61 418.5H592.31V423.89H589.61ZM593.16 418.5H595.86V423.89H593.16ZM596.72 418.5H599.42V424.59H596.72ZM600.27 418.5H602.97V425.47H600.27ZM603.82 418.5H606.52V425.47H603.82ZM607.37 418.5H610.07V426.34H607.37ZM610.92 418.5H613.62V426.34H610.92ZM614.47 418.5H617.17V427.22H614.47ZM618.03 418.5H620.73V427.22H618.03ZM621.58 418.5H624.28V427.75H621.58ZM625.13 418.5H627.83V424.77H625.13ZM628.68 418.5H631.38V423.02H628.68ZM632.23 418.5H634.93V421.61H632.23ZM635.78 418.5H638.48V419.86H635.78ZM639.33 418.5H642.03V419.16H639.33ZM674.85 418.5H677.55V419.51H674.85ZM678.4 418.5H681.1V425.47H678.4ZM681.95 418.5H684.65V428.97H681.95ZM685.51 418.5H688.21V431.77H685.51ZM689.06 418.5H691.76V425.99H689.06ZM692.61 418.5H695.31V424.24H692.61ZM696.16 418.5H698.86V421.61H696.16ZM699.71 418.5H702.41V418.99H699.71ZM713.92 418.5H716.62V418.99H713.92Z"/>
<path fill="none" stroke="#ffb733" stroke-width="0.85" stroke-linejoin="round" d="M5.94 407.52C8.34 407.33 15.2 406.79 20.33 406.42C25.47 406.06 32.32 405.41 36.75 405.33C41.19 405.25 43.92 405.59 46.92 405.95C49.92 406.32 52.13 406.79 54.74 407.52C57.35 408.25 59.95 409.47 62.56 410.33C65.17 411.19 67.51 411.9 70.38 412.68C73.25 413.46 76.9 414.11 79.77 415.02C82.63 415.94 85.24 417.11 87.59 418.15C89.93 419.2 91.76 420.37 93.84 421.28C95.93 422.19 98.01 423.11 100.1 423.63C102.18 424.15 104.27 424.28 106.35 424.41C108.44 424.54 110.52 424.8 112.61 424.41C114.7 424.02 116.78 422.84 118.87 422.06C120.95 421.28 122.78 420.63 125.12 419.72C127.47 418.8 130.34 417.55 132.94 416.59C135.55 415.62 138.16 414.71 140.76 413.93C143.37 413.15 146.21 412.37 148.58 411.9C150.96 411.43 152.63 411.11 155 411.11C157.37 411.11 160.21 411.51 162.82 411.9C165.43 412.29 168.03 413.02 170.64 413.46C173.25 413.9 175.85 414.42 178.46 414.56C181.07 414.69 183.67 414.42 186.28 414.24C188.89 414.06 191.49 413.85 194.1 413.46C196.71 413.07 199.31 412.42 201.92 411.9C204.53 411.38 207.13 410.8 209.74 410.33C212.35 409.86 214.95 409.42 217.56 409.08C220.17 408.74 222.77 408.43 225.38 408.3C227.99 408.17 230.59 408.22 233.2 408.3C235.81 408.38 238.41 408.64 241.02 408.77C243.63 408.9 246.23 409.08 248.84 409.08C251.45 409.08 254.06 408.95 256.66 408.77C259.27 408.59 261.88 408.19 264.48 407.99C267.09 407.78 269.7 407.65 272.3 407.52C274.91 407.39 277.52 407.18 280.12 407.2C282.73 407.23 285.34 407.46 287.94 407.67C290.55 407.88 293.16 408.14 295.76 408.46C298.37 408.77 301.21 409.11 303.58 409.55C305.96 409.99 307.63 410.54 310 411.11C312.37 411.69 315.21 412.86 317.82 412.99C320.43 413.12 323.03 412.34 325.64 411.9C328.25 411.45 330.85 410.8 333.46 410.33C336.07 409.86 338.67 409.29 341.28 409.08C343.89 408.87 346.49 409 349.1 409.08C351.71 409.16 354.31 409.47 356.92 409.55C359.53 409.63 362.13 409.6 364.74 409.55C367.35 409.5 369.95 409.37 372.56 409.24C375.17 409.11 377.77 408.98 380.38 408.77C382.99 408.56 385.59 408.19 388.2 407.99C390.81 407.78 393.41 407.65 396.02 407.52C398.63 407.39 401.23 407.18 403.84 407.2C406.45 407.23 409.06 407.46 411.66 407.67C414.27 407.88 416.88 407.88 419.48 408.46C422.09 409.03 424.7 410.36 427.3 411.11C429.91 411.87 432.52 412.47 435.12 412.99C437.73 413.51 440.34 413.77 442.94 414.24C445.55 414.71 448.16 415.21 450.76 415.81C453.37 416.41 456.21 417.32 458.58 417.84C460.96 418.36 462.63 418.54 465 418.93C467.37 419.33 470.21 419.72 472.82 420.19C475.43 420.65 478.03 421.57 480.64 421.75C483.25 421.93 485.85 421.62 488.46 421.28C491.07 420.94 493.67 420.37 496.28 419.72C498.89 419.06 501.49 418.02 504.1 417.37C506.71 416.72 509.31 416.28 511.92 415.81C514.53 415.34 517.13 414.87 519.74 414.56C522.35 414.24 524.95 414.06 527.56 413.93C530.17 413.8 532.77 413.85 535.38 413.77C537.99 413.7 540.59 413.51 543.2 413.46C545.81 413.41 548.41 413.51 551.02 413.46C553.63 413.41 556.23 413.33 558.84 413.15C561.45 412.97 564.06 412.39 566.66 412.37C569.27 412.34 571.88 412.55 574.48 412.99C577.09 413.43 579.7 414.24 582.3 415.02C584.91 415.81 587.52 416.77 590.12 417.68C592.73 418.6 595.34 419.51 597.94 420.5C600.55 421.49 603.16 422.51 605.76 423.63C608.37 424.75 611.21 426.1 613.58 427.22C615.96 428.34 617.63 429.31 620 430.35C622.37 431.39 625.21 432.59 627.82 433.48C630.43 434.37 633.03 435.36 635.64 435.67C638.25 435.98 640.85 435.67 643.46 435.36C646.07 435.04 648.67 434.37 651.28 433.79C653.89 433.22 656.49 432.44 659.1 431.92C661.71 431.39 664.57 430.93 666.92 430.66C669.27 430.4 671.09 430.04 673.18 430.35C675.26 430.66 677.35 431.45 679.43 432.54C681.52 433.64 683.6 435.67 685.69 436.92C687.77 438.17 689.86 439.32 691.95 440.05C694.03 440.78 695.86 441.17 698.2 441.3C700.55 441.43 703.41 440.91 706.02 440.83C708.63 440.75 711.23 441.01 713.84 440.83C716.45 440.65 719.06 440.52 721.66 439.74C724.27 438.95 726.88 437.52 729.48 436.14C732.09 434.76 735.55 432.41 737.3 431.45C739.06 430.48 738.25 431.39 740 430.35C741.75 429.31 745.21 426.83 747.82 425.19C750.43 423.55 753.03 421.88 755.64 420.5C758.25 419.12 760.85 418.2 763.46 416.9C766.07 415.6 768.67 414.16 771.28 412.68C773.89 411.19 776.49 409.5 779.1 407.99C781.71 406.47 784.84 404.73 786.92 403.61C789.01 402.49 789.53 401.83 791.61 401.26C793.7 400.69 798.13 400.35 799.43 400.17"/>
<path fill="none" stroke="#6672f5" stroke-width="0.85" stroke-linejoin="round" d="M5.94 407.2C6.93 407.09 10.35 406.7 12.51 406.42C14.67 406.14 17.99 405.52 20.33 405.33C22.68 405.14 25.69 405.31 28.15 405.17C30.62 405.03 34.64 404.2 36.75 404.39C38.87 404.58 40.47 405.77 42.23 406.42C43.99 407.08 46.61 408.18 48.48 408.77C50.36 409.35 52.86 409.51 54.74 410.33C56.62 411.15 59.12 413.3 61 414.24C62.87 415.18 65.38 416 67.25 416.59C69.13 417.17 71.63 417.8 73.51 418.15C75.39 418.5 78.12 418.23 79.77 418.93C81.41 419.64 82.93 421.67 84.46 422.84C85.98 424.02 88.41 425.82 89.93 426.75C91.46 427.69 92.86 428.87 94.62 429.1C96.38 429.34 99.67 428.79 101.66 428.32C103.66 427.85 106.04 427.03 107.92 425.97C109.79 424.92 112.3 422.69 114.17 421.28C116.05 419.87 118.55 417.81 120.43 416.59C122.31 415.37 124.81 413.97 126.69 413.15C128.56 412.33 130.83 411.72 132.94 411.11C135.05 410.5 138.42 409.36 140.76 409.08C143.11 408.8 146.59 409.33 148.58 409.24C150.58 409.14 152.39 408.17 154.06 408.46C155.72 408.74 158.14 410.36 159.69 411.11C161.24 411.87 162.74 412.69 164.38 413.46C166.03 414.23 168.76 415.81 170.64 416.28C172.52 416.74 175.02 416.78 176.9 416.59C178.77 416.4 181.04 415.61 183.15 415.02C185.26 414.44 188.63 413.34 190.97 412.68C193.32 412.02 196.45 411.28 198.79 410.65C201.14 410.01 204.27 408.97 206.61 408.46C208.96 407.94 212.32 407.46 214.43 407.2C216.54 406.95 219.16 406.9 220.69 406.74C222.21 406.57 223.19 405.99 224.6 406.11C226.01 406.23 228.08 407.12 230.07 407.52C232.07 407.92 235.55 408.46 237.89 408.77C240.24 409.07 243.37 409.6 245.71 409.55C248.06 409.5 251.19 408.81 253.53 408.46C255.88 408.1 259.01 407.46 261.35 407.2C263.7 406.95 267.06 406.9 269.17 406.74C271.29 406.57 273.55 406.04 275.43 406.11C277.31 406.18 279.81 406.76 281.69 407.2C283.56 407.65 285.83 408.61 287.94 409.08C290.05 409.55 293.65 410.03 295.76 410.33C297.87 410.64 300.14 410.53 302.02 411.11C303.9 411.7 306.26 413.47 308.27 414.24C310.29 415.02 313.81 416.28 315.47 416.28C317.14 416.28 317.86 415.25 319.38 414.24C320.91 413.23 323.76 410.61 325.64 409.55C327.52 408.49 329.9 407.72 331.9 407.2C333.89 406.69 337.06 406.06 338.93 406.11C340.81 406.16 342.41 406.95 344.41 407.52C346.4 408.08 349.88 409.44 352.23 409.86C354.57 410.29 357.7 410.38 360.05 410.33C362.39 410.29 365.52 409.83 367.87 409.55C370.22 409.27 373.34 408.81 375.69 408.46C378.04 408.1 381.4 407.51 383.51 407.2C385.62 406.9 388.01 406.59 389.77 406.42C391.52 406.26 393.36 405.95 395.24 406.11C397.12 406.27 400.05 407.12 402.28 407.52C404.51 407.92 407.52 408.46 410.1 408.77C412.68 409.07 417.37 408.85 419.48 409.55C421.59 410.25 422.77 412.45 424.17 413.46C425.58 414.47 427.22 415.81 428.87 416.28C430.51 416.74 433.25 416.71 435.12 416.59C437 416.47 439.5 415.38 441.38 415.49C443.26 415.61 445.76 416.78 447.63 417.37C449.51 417.96 451.78 419 453.89 419.4C456 419.8 459.34 419.87 461.71 420.03C464.08 420.19 467.79 420.08 469.69 420.5C471.59 420.92 472.74 422.38 474.38 422.84C476.03 423.31 478.76 423.86 480.64 423.63C482.52 423.39 485.02 422.1 486.9 421.28C488.77 420.46 491.28 419.16 493.15 418.15C495.03 417.14 497.53 415.33 499.41 414.56C501.29 413.78 503.79 413.27 505.66 412.99C507.54 412.71 509.81 412.77 511.92 412.68C514.03 412.58 517.39 412.25 519.74 412.37C522.09 412.48 525.22 413.37 527.56 413.46C529.91 413.55 533.04 412.99 535.38 412.99C537.73 412.99 540.86 413.39 543.2 413.46C545.55 413.53 548.68 413.65 551.02 413.46C553.37 413.27 556.73 412.56 558.84 412.21C560.95 411.86 563.46 411.21 565.1 411.11C566.74 411.02 568.38 411.11 569.79 411.58C571.2 412.05 572.84 413.37 574.48 414.24C576.12 415.11 578.86 416.43 580.74 417.37C582.61 418.31 585.12 419.68 586.99 420.5C588.87 421.32 591.37 422.02 593.25 422.84C595.13 423.67 597.39 424.92 599.51 425.97C601.62 427.03 604.98 428.48 607.33 429.88C609.67 431.29 613.25 434.07 615.15 435.36C617.05 436.65 618.57 437.83 620 438.48C621.43 439.14 623.28 439.74 624.69 439.74C626.1 439.74 627.98 438.72 629.38 438.48C630.79 438.25 632.67 438.48 634.08 438.17C635.48 437.87 637.36 436.94 638.77 436.45C640.18 435.96 642.05 435.64 643.46 434.89C644.87 434.14 646.74 432.31 648.15 431.45C649.56 430.58 651.44 429.57 652.84 429.1C654.25 428.63 655.89 428.27 657.54 428.32C659.18 428.37 662.15 429.3 663.79 429.41C665.43 429.53 667.19 429.26 668.48 429.1C669.78 428.94 671.46 428.08 672.39 428.32C673.33 428.55 673.69 429.14 674.74 430.66C675.8 432.19 678.14 436.37 679.43 438.48C680.72 440.6 682.29 443.1 683.34 444.74C684.4 446.38 685.53 449.15 686.47 449.43C687.41 449.71 688.54 447.13 689.6 446.62C690.65 446.1 692.22 446.51 693.51 445.99C694.8 445.48 696.79 444.02 698.2 443.18C699.61 442.33 701.49 440.83 702.89 440.36C704.3 439.89 706.3 440.21 707.59 440.05C708.88 439.88 710.32 439.15 711.5 439.27C712.67 439.38 714.12 440.83 715.41 440.83C716.7 440.83 718.69 440.32 720.1 439.27C721.51 438.21 723.38 435.32 724.79 433.79C726.2 432.27 727.84 430.63 729.48 429.1C731.12 427.58 734.16 424.8 735.74 423.63C737.32 422.45 738.66 422.22 740 421.28C741.34 420.34 743.28 418.5 744.69 417.37C746.1 416.24 747.74 414.59 749.38 413.77C751.03 412.95 753.53 412.41 755.64 411.9C757.75 411.38 761.58 411.15 763.46 410.33C765.34 409.51 766.51 407.71 768.15 406.42C769.79 405.13 772.53 402.97 774.41 401.73C776.29 400.49 779.02 398.95 780.66 398.13C782.31 397.31 784.07 396.61 785.36 396.26C786.65 395.9 787.98 395.6 789.27 395.79C790.56 395.97 792.43 396.85 793.96 397.51C795.48 398.16 798.61 399.77 799.43 400.17"/>
<line x1="5.5" y1="453.3" x2="1017.5" y2="453.3" stroke="#868686" stroke-width="1"/>
<line x1="970.7" y1="15.1" x2="970.7" y2="473.4" stroke="#868686" stroke-width="1"/>
<text x="976.8" y="31.4" class="ax" textLength="34.5" lengthAdjust="spacingAndGlyphs">6,200.00</text>
<text x="976.8" y="72.8" class="ax" textLength="34.5" lengthAdjust="spacingAndGlyphs">6,000.00</text>
<text x="976.8" y="155.6" class="ax" textLength="34.5" lengthAdjust="spacingAndGlyphs">5,600.00</text>
<text x="976.8" y="196.9" class="ax" textLength="34.5" lengthAdjust="spacingAndGlyphs">5,400.00</text>
<text x="976.8" y="238.3" class="ax" textLength="34.5" lengthAdjust="spacingAndGlyphs">5,200.00</text>
<text x="976.8" y="279.5" class="ax" textLength="34.5" lengthAdjust="spacingAndGlyphs">5,000.00</text>
<text x="976.8" y="320.5" class="ax" textLength="34.5" lengthAdjust="spacingAndGlyphs">4,800.00</text>
<text x="976.8" y="342.1" class="ax" textLength="21.5" lengthAdjust="spacingAndGlyphs">75.00</text>
<text x="976.8" y="386.3" class="ax" textLength="21.5" lengthAdjust="spacingAndGlyphs">25.00</text>
<text x="976.8" y="420.5" class="ax" textLength="17" lengthAdjust="spacingAndGlyphs">0.00</text>
<rect x="971.2" y="104.9" width="43.8" height="12.4" rx="0.8" fill="#000"/>
<text x="976.9" y="114" class="ax" textLength="34.3" lengthAdjust="spacingAndGlyphs" style="fill:#fff;font-size:8.8px">5,802.83</text>
<clipPath id="c"><rect x="0" y="454" width="970.3" height="20"/></clipPath>
<g clip-path="url(#c)" text-anchor="middle">
<text x="79.5" y="465.8" class="ax">Aug</text>
<text x="157.6" y="465.8" class="ax">Sep</text>
<text x="228.6" y="465.8" class="ax">Oct</text>
<text x="310.2" y="465.8" class="ax">Nov</text>
<text x="381.2" y="465.8" class="ax">Dec</text>
<text x="455.8" y="465.8" class="ax" style="font-weight:bold;fill:#111" textLength="20.4" lengthAdjust="spacingAndGlyphs">2025</text>
<text x="527.2" y="465.8" class="ax">Feb</text>
<text x="594.4" y="465.8" class="ax">Mar</text>
<text x="668.8" y="465.8" class="ax">Apr</text>
<text x="743.5" y="465.8" class="ax">May</text>
<text x="818.5" y="465.8" class="ax">Jun</text>
<text x="888.8" y="465.8" class="ax">Jul</text>
<text x="966.9" y="465.8" class="ax">Aug</text>
</g>
<text x="9.8" y="25.7" class="lg" textLength="12" lengthAdjust="spacingAndGlyphs" fill="#111" style="font-size:8px">SMA</text>
<text x="25.8" y="25.7" class="lg" textLength="26.2" lengthAdjust="spacingAndGlyphs" fill="#3f74f2" style="font-size:8px">5,773.10</text>
<text x="9.9" y="339" class="lg" textLength="8.8" lengthAdjust="spacingAndGlyphs" fill="#222">RSI</text>
<text x="22.6" y="339" class="lg" textLength="16.4" lengthAdjust="spacingAndGlyphs" fill="#8766d0">56.10</text>
<text x="43.8" y="339" class="lg" textLength="16.2" lengthAdjust="spacingAndGlyphs" fill="#f0546a">62.63</text>
<text x="9.9" y="401.6" class="lg" textLength="16.7" lengthAdjust="spacingAndGlyphs" fill="#222">MACD</text>
<text x="31" y="401.7" class="lg" textLength="12.8" lengthAdjust="spacingAndGlyphs" fill="#4a9a50">2.29</text>
<text x="48" y="401.6" class="lg" textLength="16.4" lengthAdjust="spacingAndGlyphs" fill="#5a68f5">97.27</text>
<text x="68.5" y="401.7" class="lg" textLength="16.7" lengthAdjust="spacingAndGlyphs" fill="#f5b533">94.98</text>
<text x="75.3" y="63.7" class="tv" textLength="86.9" lengthAdjust="spacingAndGlyphs" style="font-size:16.3px;stroke-width:.68px">SPX - daily</text>
<text x="75.3" y="81.7" class="tv" textLength="181.4" lengthAdjust="spacingAndGlyphs" style="font-size:16.3px;stroke-width:.68px">07/03/24 to 05/23/25</text>
<text x="628.5" y="72.5" class="tv" textLength="34.9" lengthAdjust="spacingAndGlyphs" style="font-size:12.7px">failed</text>
<text x="628.5" y="86.1" class="tv" textLength="60.1" lengthAdjust="spacingAndGlyphs" style="font-size:12.7px">break out</text>
<text x="834.7" y="82.2" class="tv" textLength="107.3" lengthAdjust="spacingAndGlyphs" style="font-size:12.7px">3.70% above SMA</text>
<text x="834.7" y="95.4" class="tv" textLength="102.6" lengthAdjust="spacingAndGlyphs" style="font-size:12.7px">in 6 trading days</text>
<text x="795.1" y="161.1" class="tv" textLength="47.5" lengthAdjust="spacingAndGlyphs" style="font-size:12.7px">support</text>
<text x="799.6" y="173.7" class="tv" textLength="29.5" lengthAdjust="spacingAndGlyphs" style="font-size:12.7px">zone</text>
<text x="303" y="232.8" class="bd" textLength="79" lengthAdjust="spacingAndGlyphs" style="font-size:11.2px">200 - day SMA</text>
<text x="216.8" y="373.4" class="bd" textLength="17.7" lengthAdjust="spacingAndGlyphs" style="font-size:11.6px">RSI</text>
<text x="252.3" y="439.7" class="bd" textLength="34.9" lengthAdjust="spacingAndGlyphs" style="font-size:12.4px">MACD</text>
<polygon fill="#000" stroke="#000" stroke-width="0.4" stroke-linejoin="round" points="651.4,105.3 654.1,101.7 652.15,101.7 652.15,94.1 650.65,94.1 650.65,101.7 648.7,101.7"/>
<polygon fill="#000" stroke="#000" stroke-width="0.4" stroke-linejoin="round" points="808.5,78.2 812.1,80.9 812.1,78.95 819.9,78.95 819.9,77.45 812.1,77.45 812.1,75.5"/>
<polygon fill="#000" stroke="#000" stroke-width="0.4" stroke-linejoin="round" points="814.1,132.2 811.4,135.8 813.35,135.8 813.35,142.8 814.85,142.8 814.85,135.8 816.8,135.8"/>
<polygon fill="#000" stroke="#000" stroke-width="0.4" stroke-linejoin="round" points="812.3,351.5 815.9,354.2 815.9,352.25 823.8,352.25 823.8,350.75 815.9,350.75 815.9,348.8"/>
<polygon fill="#000" stroke="#000" stroke-width="0.4" stroke-linejoin="round" points="812.5,400.2 816.1,402.9 816.1,400.95 824.1,400.95 824.1,399.45 816.1,399.45 816.1,397.5"/>
<path d="M343.7 197.9L352.6 205.3H348V212.4H339.4V205.3H334.7Z" fill="#fff" stroke="#000" stroke-width="2.6" stroke-linejoin="round"/>
<g fill="#111"><path d="M5.7 480.1H10.2V485.6H8V482.3H5.7Z"/><circle cx="11.6" cy="481.2" r="1.1"/><path d="M13.4 480.1H16.6L14.2 485.6H11Z"/></g>
<text x="19" y="485.5" class="ax" textLength="38.8" lengthAdjust="spacingAndGlyphs" style="font-size:7.6px;fill:#2e2e2e">TradingView</text>
</svg></body></html>
